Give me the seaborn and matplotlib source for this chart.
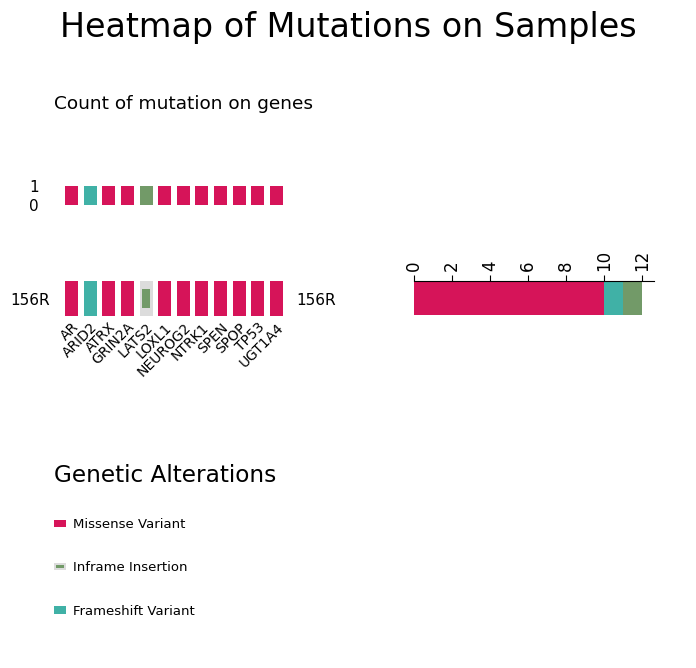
import matplotlib
matplotlib.use("Agg")
import matplotlib.pyplot as plt
import seaborn as sns
from matplotlib.patches import Patch, Rectangle
from matplotlib.legend_handler import HandlerBase

# data
genes = ["AR", "ARID2", "ATRX", "GRIN2A", "LATS2", "LOXL1", "NEUROG2",
         "NTRK1", "SPEN", "SPOP", "TP53", "UGT1A4"]
gene_variant = ["Missense Variant", "Frameshift Variant", "Missense Variant",
                "Missense Variant", "Inframe Insertion", "Missense Variant",
                "Missense Variant", "Missense Variant", "Missense Variant",
                "Missense Variant", "Missense Variant", "Missense Variant"]
gene_counts = [1, 1, 1, 1, 1, 1, 1, 1, 1, 1, 1, 1]
sample = "156R"
variant_types = ["Missense Variant", "Frameshift Variant", "Inframe Insertion"]
variant_counts = [10, 1, 1]
legend_order = ["Missense Variant", "Inframe Insertion", "Frameshift Variant"]

colors = {"Missense Variant": "#d61459",
          "Frameshift Variant": "#40b1a6",
          "Inframe Insertion": "#729a68"}
bg_gray = "#dcdcdc"

sns.set_style("white")
plt.rcParams['font.family'] = ['DejaVu Sans']
plt.rcParams.update({"text.color": "black", "axes.labelcolor": "black",
                     "xtick.color": "black", "ytick.color": "black"})

fig = plt.figure(figsize=(6.96, 6.68), dpi=100)
W, H = 696, 668


def box(x0, y0, x1, y1):
    return [x0 / W, 1 - y1 / H, (x1 - x0) / W, (y1 - y0) / H]


fig.suptitle("Heatmap of Mutations on Samples", fontsize=24, y=1 - 28 / H, va="center")
fig.text(54 / W, 1 - 104 / H, "Count of mutation on genes", fontsize=13.3, va="center")

# count of mutations per gene
ax_top = fig.add_axes(box(62.2, 186, 285.8, 205))
sns.barplot(x=genes, y=gene_counts, hue=genes,
            palette=[colors[v] for v in gene_variant], width=0.7,
            saturation=1, linewidth=0, legend=False, ax=ax_top)
ax_top.set_xlim(-0.5, len(genes) - 0.5)
ax_top.set_ylim(0, 1)
ax_top.set_yticks([0, 1])
ax_top.set_xticks([])
ax_top.set_xlabel("")
ax_top.set_ylabel("")
ax_top.tick_params(axis="y", length=0, pad=17, labelsize=11)
sns.despine(ax=ax_top, left=True, bottom=True)

# oncoprint row
ax_mid = fig.add_axes(box(62.2, 281, 285.8, 316))
for i, v in enumerate(gene_variant):
    if v == "Inframe Insertion":
        ax_mid.bar(i, 1, width=0.7, bottom=-0.5, color=bg_gray, linewidth=0)
        ax_mid.bar(i, 0.55, width=0.45, bottom=-0.275, color=colors[v], linewidth=0)
    else:
        ax_mid.bar(i, 1, width=0.7, bottom=-0.5, color=colors[v], linewidth=0)
ax_mid.set_xlim(-0.5, len(genes) - 0.5)
ax_mid.set_ylim(-0.5, 0.5)
ax_mid.set_xticks(range(len(genes)))
ax_mid.set_xticklabels(genes, rotation=45, ha="right", rotation_mode="anchor", fontsize=10)
ax_mid.set_yticks([0])
ax_mid.set_yticklabels([sample], fontsize=11)
ax_mid.tick_params(length=0, pad=3)
ax_mid.tick_params(axis="y", pad=8.6)
sns.despine(ax=ax_mid, left=True, bottom=True)

# stacked count per variant type
ax_right = fig.add_axes(box(414, 281, 654, 316))
left = 0
for v, c in zip(variant_types, variant_counts):
    ax_right.barh(0, c, height=0.96, left=left, color=colors[v], align="center", linewidth=0)
    left += c
ax_right.set_xlim(0, 12.63)
ax_right.set_ylim(-0.5, 0.5)
ax_right.set_xticks(range(0, 13, 2))
ax_right.xaxis.tick_top()
ax_right.tick_params(axis="x", top=True, bottom=False, direction="out", length=4,
                     width=0.8, labelsize=12, labelrotation=90, colors="black")
ax_right.set_yticks([0])
ax_right.set_yticklabels([sample], fontsize=11)
ax_right.tick_params(axis="y", length=0, pad=56)
for s in ["bottom", "left", "right"]:
    ax_right.spines[s].set_visible(False)
ax_right.spines["top"].set_visible(True)
ax_right.spines["top"].set_color("black")
ax_right.spines["top"].set_linewidth(0.8)


# legend
class InframeHandler(HandlerBase):
    def create_artists(self, legend, orig_handle, xdescent, ydescent, width, height, fontsize, trans):
        bg = Rectangle((-xdescent, -ydescent), width, height, fc=bg_gray, ec="none", transform=trans)
        fg = Rectangle((-xdescent + width * 0.2, -ydescent + height * 0.25), width * 0.6, height * 0.5,
                       fc=colors["Inframe Insertion"], ec="none", transform=trans)
        return [bg, fg]


class InframeProxy:
    pass


fig.text(54 / W, 1 - 475 / H, "Genetic Alterations", fontsize=16.7, va="center")
handles = []
for v in legend_order:
    if v == "Inframe Insertion":
        handles.append(InframeProxy())
    else:
        handles.append(Patch(color=colors[v], linewidth=0))
fig.legend(handles, legend_order, loc="upper left", bbox_to_anchor=(54 / W, 1 - 518 / H),
           frameon=False, fontsize=9.5, handlelength=0.9, handleheight=0.45,
           handletextpad=0.55, labelspacing=2.3, borderpad=0, borderaxespad=0,
           handler_map={InframeProxy: InframeHandler()})

fig.savefig("out.png", dpi=100)
